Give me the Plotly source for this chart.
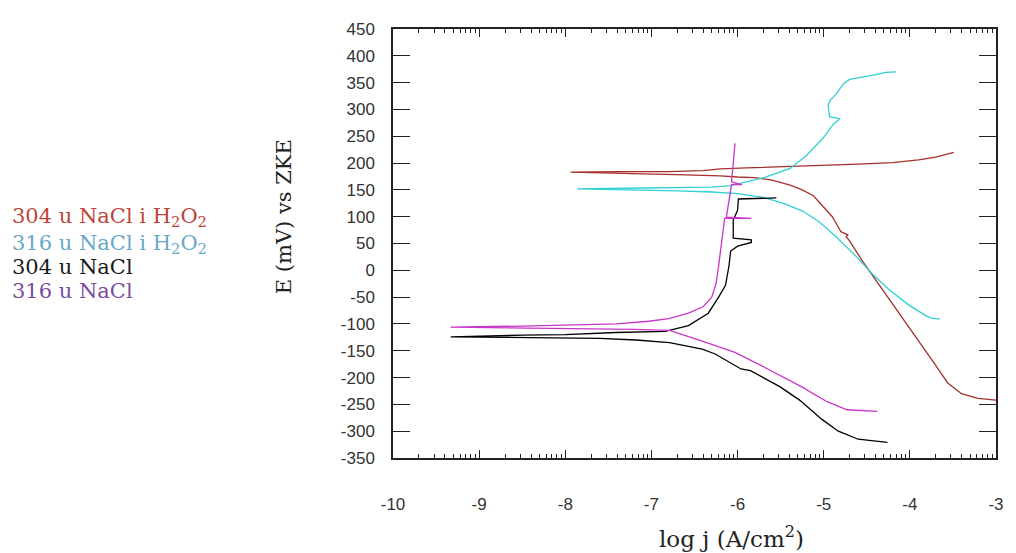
import numpy as np
import plotly.graph_objects as go

# ---------------- data ----------------
series_names = ["304 u NaCl i H<sub>2</sub>O<sub>2</sub>",
                "316 u NaCl i H<sub>2</sub>O<sub>2</sub>",
                "304 u NaCl",
                "316 u NaCl"]

# 304 in NaCl + H2O2
red_logj = [-3.0, -3.21, -3.40, -3.56, -3.71, -3.94, -4.17, -4.40, -4.55, -4.70, -4.74,
            -4.72, -4.80, -4.90, -4.99, -5.12, -5.25, -5.39, -5.60, -5.80, -6.00, -6.20,
            -6.60, -7.20, -7.94, -7.40, -6.80, -6.40, -6.20, -5.90, -5.30, -4.60, -4.20,
            -3.90, -3.70, -3.49]
red_E = [-242, -239, -230, -210, -175, -123, -70, -18, 17, 55, 63,
         66, 72, 100, 116, 139, 150, 159, 168, 173, 174, 176,
         178, 180, 183, 184, 184, 186, 189, 191, 194, 198, 201,
         206, 211, 220]

# 316 in NaCl + H2O2
cyan_logj = [-3.65, -3.75, -3.82, -4.02, -4.25, -4.44, -4.63, -4.86, -5.05, -5.24, -5.45,
             -5.70, -6.00, -6.30, -6.70, -7.30, -7.86, -7.30, -6.70, -6.30, -6.08, -5.69,
             -5.39, -5.20, -5.00, -4.89, -4.81, -4.93, -4.95, -4.93, -4.85, -4.77, -4.70,
             -4.54, -4.39, -4.28, -4.16]
cyan_E = [-91, -89, -84, -64, -35, -6, 27, 63, 90, 110, 124,
          136, 143, 146, 148, 150, 152, 153, 154, 155, 158, 173,
          190, 214, 248, 272, 283, 286, 307, 316, 330, 348, 356,
          360, 365, 369, 370]

# 304 in NaCl
black_logj = [-4.26, -4.60, -4.83, -5.02, -5.28, -5.51, -5.85, -5.96, -6.26, -6.41, -6.79,
              -7.18, -7.60, -8.40, -9.33, -8.50, -8.00, -7.41, -6.84, -6.57, -6.34, -6.22,
              -6.14, -6.10, -6.08, -6.00, -5.84, -5.84, -6.05, -6.05, -6.00, -5.99, -5.55]
black_E = [-321, -315, -300, -278, -242, -217, -187, -184, -156, -147, -135,
           -130, -127, -125, -124, -121, -120, -116, -114, -103, -80, -50,
           -28, 8, 36, 45, 52, 57, 60, 94, 112, 133, 135]

# 316 in NaCl
mag_logj = [-4.38, -4.73, -4.96, -5.26, -5.65, -6.03, -6.41, -6.79, -7.20, -8.00, -8.60,
            -9.33, -8.50, -7.98, -7.41, -7.03, -6.80, -6.57, -6.40, -6.30, -6.25, -6.22,
            -6.18, -6.15, -5.84, -6.13, -6.10, -6.07, -5.95, -6.07, -6.05, -6.03]
mag_E = [-263, -260, -245, -217, -184, -153, -132, -112, -110, -108, -107,
         -106, -104, -102, -100, -95, -90, -80, -68, -50, -25, 8,
         60, 97, 97, 99, 130, 160, 160, 165, 200, 237]

x_major = [-10, -9, -8, -7, -6, -5, -4, -3]
y_major = list(range(-350, 451, 50))

line_colors = ["#a5302b", "#2fd0d6", "#000000", "#c935c9"]
label_colors = ["#c0443a", "#6aa8c6", "#1a1a1a", "#7a4c9c"]

# ---------------- figure ----------------
fig = go.Figure()
for xs, ys, c, n in [(red_logj, red_E, line_colors[0], series_names[0]),
                     (cyan_logj, cyan_E, line_colors[1], series_names[1]),
                     (black_logj, black_E, line_colors[2], series_names[2]),
                     (mag_logj, mag_E, line_colors[3], series_names[3])]:
    fig.add_trace(go.Scatter(x=xs, y=ys, mode="lines", name=n,
                             line=dict(color=c, width=1.3), showlegend=False))

minor_vals = [d + np.log10(k) for d in x_major[:-1] for k in range(2, 10)]

# the page body adds an 8 px offset; lay out in reference pixels minus that offset
OFF = 8
W, H = 1016 - OFF, 553 - OFF
L = 393 - OFF
T = 22 - OFF
R = W - (1003 - OFF)
B = H - (458 - OFF)
pw, ph = W - L - R, H - T - B

def px2paper(px, py):
    return (px - OFF - L) / pw, (H - B - (py - OFF)) / ph

tick_font = dict(family="Liberation Sans", size=17, color="#333")

fig.update_layout(
    width=W, height=H,
    margin=dict(l=L, r=R, t=T, b=B),
    paper_bgcolor="white", plot_bgcolor="white",
    xaxis=dict(range=[-10, -3], tickvals=x_major, ticktext=[str(v) for v in x_major],
               ticks="inside", ticklen=8, tickwidth=1.2, tickcolor="#222",
               showline=True, linecolor="#222", linewidth=1.5, mirror="ticks",
               showgrid=False, zeroline=False,
               tickfont=tick_font, ticklabelstandoff=30,
               minor=dict(tickvals=minor_vals, ticks="inside", ticklen=4,
                          tickwidth=1, tickcolor="#222", showgrid=False)),
    yaxis=dict(range=[-350, 450], tickvals=y_major, ticktext=[str(v) for v in y_major],
               ticks="inside", ticklen=17, tickwidth=1.2, tickcolor="#222",
               showline=True, linecolor="#222", linewidth=1.5, mirror="ticks",
               showgrid=False, zeroline=False,
               tickfont=tick_font, ticklabelstandoff=13),
)

annotations = []
legend_y = [213, 240, 264, 288]
for name, col, py in zip(series_names, label_colors, legend_y):
    ax, ay = px2paper(6, py)
    annotations.append(dict(text=name, x=ax, y=ay, xref="paper", yref="paper",
                            xanchor="left", yanchor="middle", showarrow=False,
                            font=dict(family="DejaVu Serif", size=21, color=col)))
tx, ty = px2paper(283, 213)
annotations.append(dict(text="E (mV) vs ZKE", x=tx, y=ty, xref="paper", yref="paper",
                        textangle=-90, showarrow=False, xanchor="center", yanchor="middle",
                        font=dict(family="DejaVu Serif", size=21, color="#222")))
tx, ty = px2paper(735, 538)
annotations.append(dict(text="log j (A/cm<sup>2</sup>)", x=tx, y=ty, xref="paper", yref="paper",
                        showarrow=False, xanchor="center", yanchor="middle",
                        font=dict(family="DejaVu Serif", size=23, color="#222")))
fig.update_layout(annotations=annotations)

fig.write_html("out.html")
